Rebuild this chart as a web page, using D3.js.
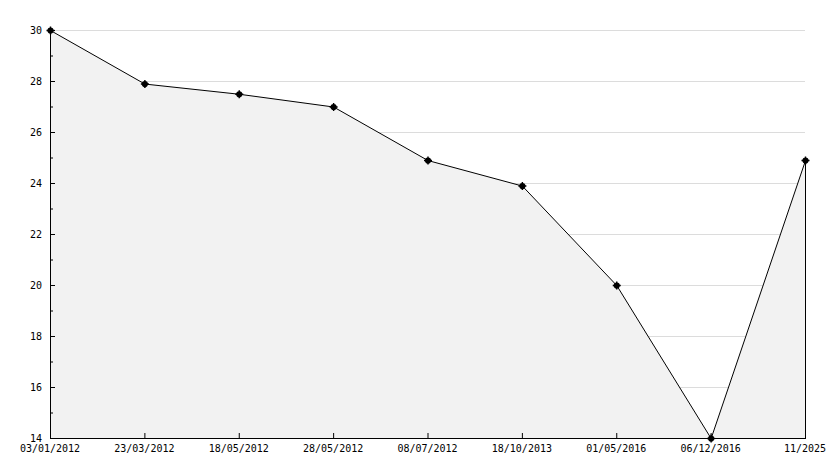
<!DOCTYPE html>
<html>
<head>
<meta charset="utf-8">
<script src="https://cdn.jsdelivr.net/npm/d3@7"></script>
<style>
  body { margin: 0; background: #fff; }
  svg { display: block; }
  text { font-family: "DejaVu Sans Mono", monospace; font-size: 10px; fill: #000; }
</style>
</head>
<body>
<div id="chart"></div>
<script>
// categories along the x axis (dates as printed)
const dates = ['03/01/2012', '23/03/2012', '18/05/2012', '28/05/2012', '08/07/2012',
               '18/10/2013', '01/05/2016', '06/12/2016', '11/2025'];
// one value per date
const values = [30, 27.9, 27.5, 27.0, 24.9, 23.9, 20.0, 14.0, 24.9];
// y ticks: labelled every 2, small marks between
const yMajor = [14, 16, 18, 20, 22, 24, 26, 28, 30];
const yMinor = [15, 17, 19, 21, 23, 25, 27, 29];

(function(){
  const width = 834, height = 468;
  const left = 50, right = 805, top = 30, bottom = 438;

  const svg = d3.select('#chart').append('svg')
    .attr('width', width).attr('height', height);

  const x = d3.scalePoint().domain(dates).range([left, right]);
  const y = d3.scaleLinear().domain([14, 30]).range([bottom, top]);

  const data = dates.map((d, i) => ({date: d, value: values[i]}));

  // light grid lines at labelled values
  svg.append('g').selectAll('line')
    .data(yMajor.filter(v => v > 14))
    .join('line')
    .attr('x1', left).attr('x2', right)
    .attr('y1', d => y(d) + 0.5).attr('y2', d => y(d) + 0.5)
    .attr('stroke', '#dcdcdc').attr('stroke-width', 1);

  // grey area under the line
  const area = d3.area()
    .x(d => x(d.date) + 0.5)
    .y0(bottom + 0.5)
    .y1(d => y(d.value) + 0.5);
  svg.append('path').datum(data)
    .attr('d', area)
    .attr('fill', '#f2f2f2');

  // right edge of the filled area
  svg.append('line')
    .attr('x1', right + 0.5).attr('x2', right + 0.5)
    .attr('y1', y(values[values.length - 1])).attr('y2', bottom)
    .attr('stroke', '#000').attr('stroke-width', 1);

  // y axis, ticks pointing inward
  const yAxis = d3.axisRight(y).tickValues(yMajor).tickSize(5).tickFormat(d3.format('d'));
  const yg = svg.append('g').attr('transform', `translate(${left},0)`).call(yAxis);
  yg.select('.domain').remove();
  yg.selectAll('text').attr('x', -8).attr('text-anchor', 'end');

  const yMinorAxis = d3.axisRight(y).tickValues(yMinor).tickSize(3).tickFormat('');
  svg.append('g').attr('transform', `translate(${left},0)`).call(yMinorAxis)
    .select('.domain').remove();

  // x axis, ticks pointing up into the plot
  const xAxis = d3.axisTop(x).tickSize(5).tickFormat('');
  svg.append('g').attr('transform', `translate(0,${bottom})`).call(xAxis)
    .select('.domain').remove();
  svg.append('g').selectAll('text')
    .data(dates)
    .join('text')
    .attr('x', d => x(d))
    .attr('y', bottom + 14)
    .attr('text-anchor', 'middle')
    .text(d => d);

  // axis lines
  svg.append('line')
    .attr('x1', left + 0.5).attr('x2', left + 0.5)
    .attr('y1', top).attr('y2', bottom + 1)
    .attr('stroke', '#000');
  svg.append('line')
    .attr('x1', left).attr('x2', right + 1)
    .attr('y1', bottom + 0.5).attr('y2', bottom + 0.5)
    .attr('stroke', '#000');

  // the data line
  const line = d3.line().x(d => x(d.date) + 0.5).y(d => y(d.value) + 0.5);
  svg.append('path').datum(data)
    .attr('d', line)
    .attr('fill', 'none')
    .attr('stroke', '#000')
    .attr('stroke-width', 1);

  // markers: small filled dot with a cross through it
  const marks = svg.append('g').selectAll('g')
    .data(data)
    .join('g')
    .attr('transform', d => `translate(${x(d.date) + 0.5},${y(d.value) + 0.5})`);
  marks.append('circle').attr('r', 3.1).attr('fill', '#000');
  marks.append('path')
    .attr('d', 'M-4,0H4M0,-4V4')
    .attr('stroke', '#000').attr('stroke-width', 1.4);
})();
</script>
</body>
</html>
